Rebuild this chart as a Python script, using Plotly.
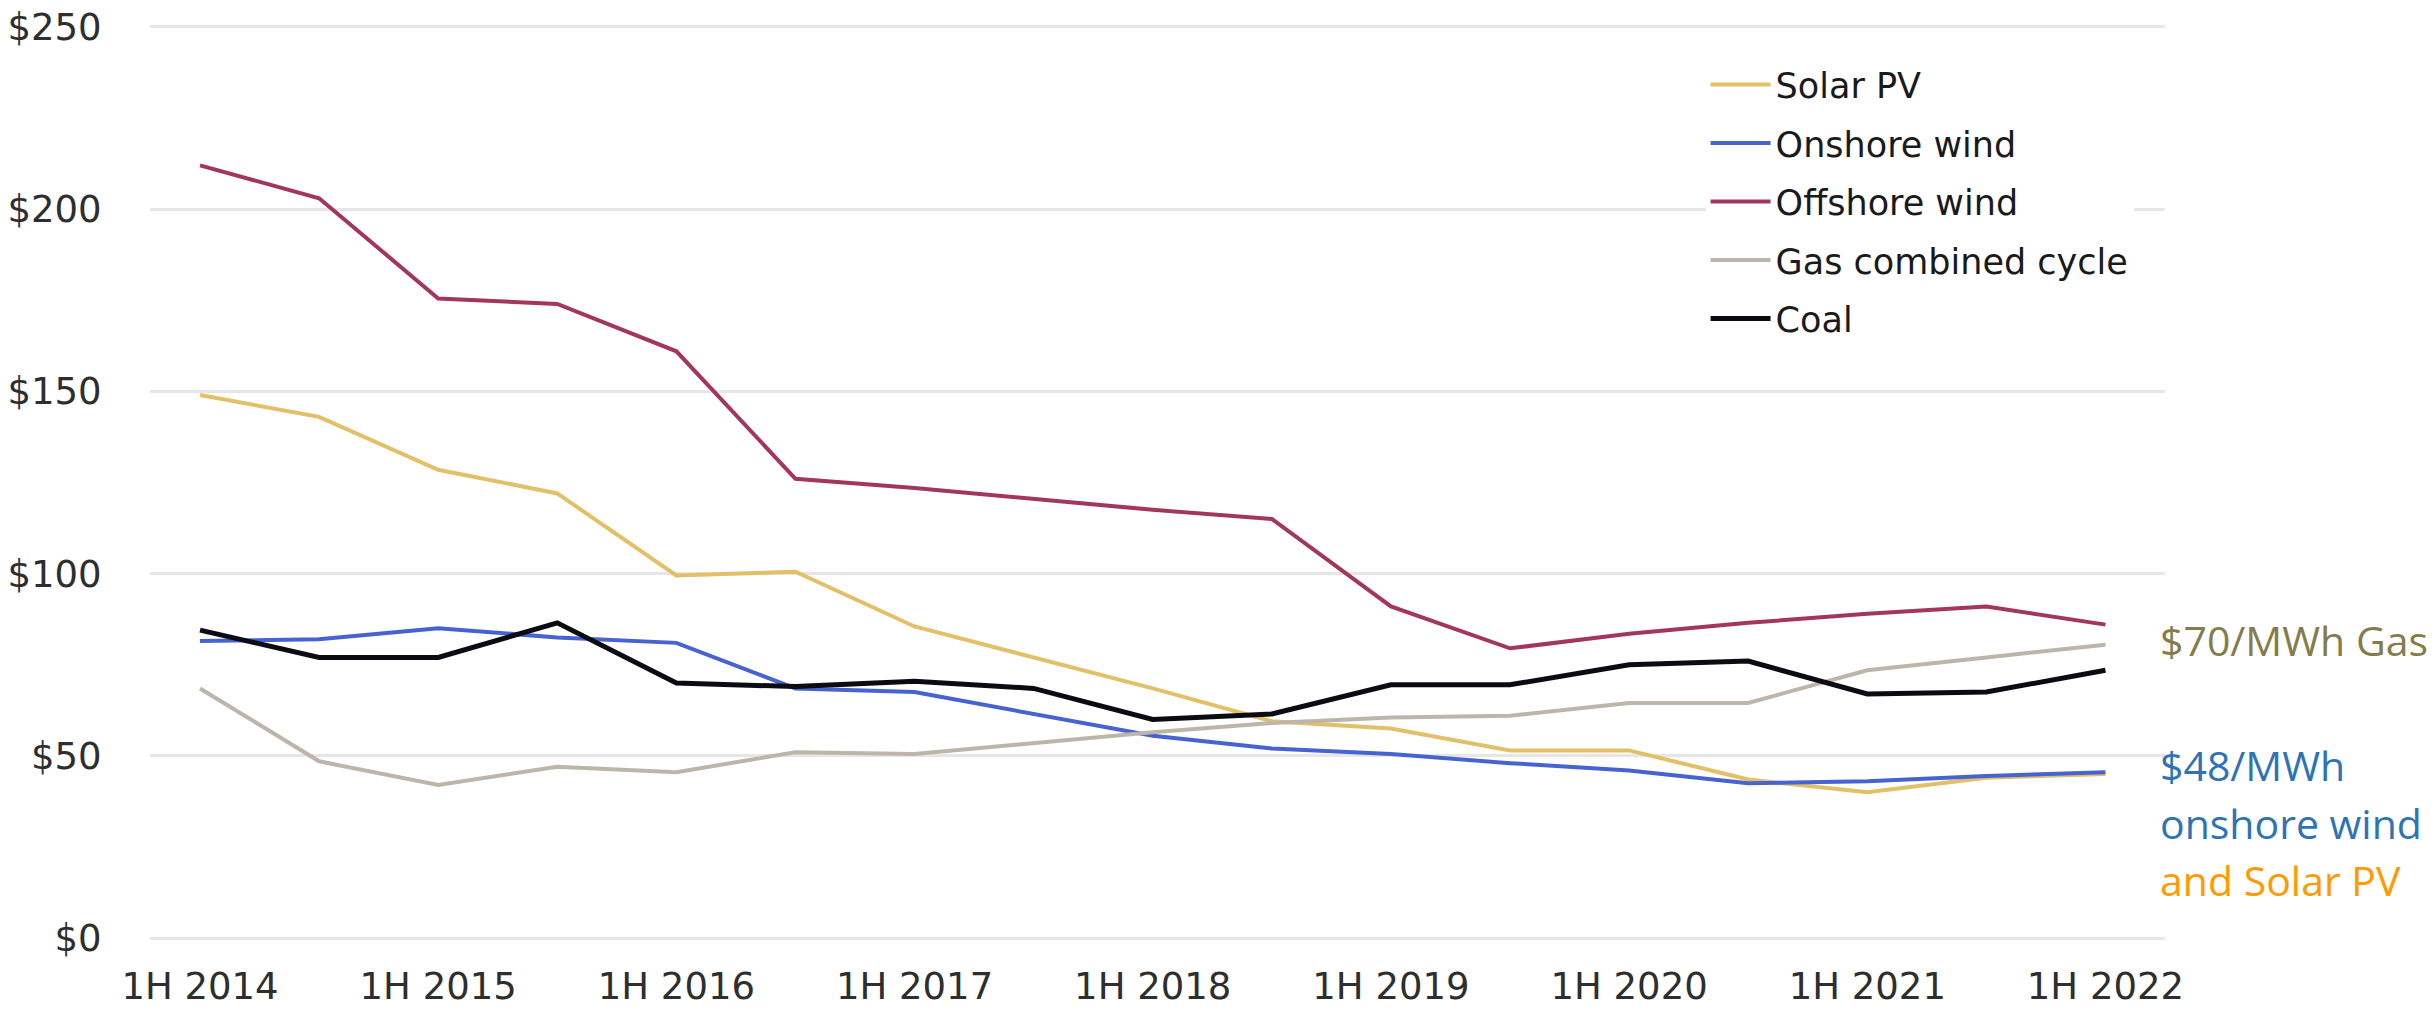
import plotly.graph_objects as go

# Half-year periods, 1H 2014 .. 1H 2022
periods = ["1H 2014", "2H 2014", "1H 2015", "2H 2015", "1H 2016", "2H 2016",
           "1H 2017", "2H 2017", "1H 2018", "2H 2018", "1H 2019", "2H 2019",
           "1H 2020", "2H 2020", "1H 2021", "2H 2021", "1H 2022"]

# Levelized cost of electricity, $/MWh
solar_pv = [149, 143, 128.5, 122, 99.5, 100.5, 85.5, 77, 68.5, 59.5, 57.5, 51.5,
            51.5, 43.5, 40, 44, 45]
onshore_wind = [81.5, 82, 85, 82.5, 81, 68.5, 67.5, 61.5, 55.5, 52, 50.5, 48,
                46, 42.5, 43, 44.5, 45.5]
offshore_wind = [212, 203, 175.5, 174, 161, 126, 123.5, 120.5, 117.5, 115, 91,
                 79.5, 83.5, 86.5, 89, 91, 86]
gas_cc = [68.5, 48.5, 42, 47, 45.5, 51, 50.5, 53.5, 56.5, 59, 60.5, 61, 64.5,
          64.5, 73.5, 77, 80.5]
coal = [84.5, 77, 77, 86.5, 70, 69, 70.5, 68.5, 60, 61.5, 69.5, 69.5, 75, 76,
        67, 67.5, 73.5]

y_ticks = [0, 50, 100, 150, 200, 250]
y_ticktext = ["$0", "$50", "$100", "$150", "$200", "$250"]

series = [
    ("Solar PV", solar_pv, "#E3C068", 4),
    ("Onshore wind", onshore_wind, "#4763CF", 4),
    ("Offshore wind", offshore_wind, "#A3365F", 4),
    ("Gas combined cycle", gas_cc, "#BDB5A9", 4),
    ("Coal", coal, "#0B0B14", 5),
]

x_idx = list(range(len(periods)))

fig = go.Figure()
for name, vals, color, w in series:
    fig.add_trace(go.Scatter(
        x=x_idx, y=vals, name=name, mode="lines", legendgroup=name,
        line=dict(color=color, width=w),
        hovertemplate="%{text}: $%{y}/MWh<extra>" + name + "</extra>",
        text=periods,
    ))

tick_font = dict(family="DejaVu Sans", size=37, color="#2e2e2e")

fig.update_layout(
    width=2434, height=1010,
    margin=dict(l=150, r=269, t=24, b=69),
    paper_bgcolor="white", plot_bgcolor="white",
    showlegend=True,
    legend=dict(
        x=0.772, y=0.966, xanchor="left", yanchor="top",
        font=dict(family="DejaVu Sans", size=35, color="#1a1a1a"),
        bgcolor="white", borderwidth=0,
        tracegroupgap=10, itemwidth=60,
    ),
    xaxis=dict(
        range=[-0.42, 16.50], automargin=False,
        tickvals=x_idx[::2], ticktext=periods[::2],
        tickfont=tick_font, showgrid=False, zeroline=False,
        showline=False, ticks="outside", ticklen=13,
        tickcolor="rgba(0,0,0,0)",
    ),
    yaxis=dict(
        range=[-0.8, 250.8], automargin=False,
        tickvals=y_ticks, ticktext=y_ticktext,
        tickfont=tick_font, showgrid=True, gridcolor="#e6e6e6", gridwidth=3,
        zeroline=False, showline=False, ticks="outside", ticklen=40,
        tickcolor="rgba(0,0,0,0)",
    ),
)

label_font = "Open Sans"
notes = [
    ("$70/MWh Gas", 0.3286, "#857C4C"),
    ("$48/MWh", 0.1919, "#2E74B5"),
    ("onshore wind", 0.1290, "#2E74B5"),
    ("and Solar PV", 0.0665, "#FF9A00"),
]
for text, ypos, color in notes:
    fig.add_annotation(xref="paper", yref="paper", x=0.9965, y=ypos,
                       xanchor="left", yanchor="middle", showarrow=False,
                       text=text,
                       font=dict(family=label_font, size=41, color=color))

fig.write_html("out.html")
